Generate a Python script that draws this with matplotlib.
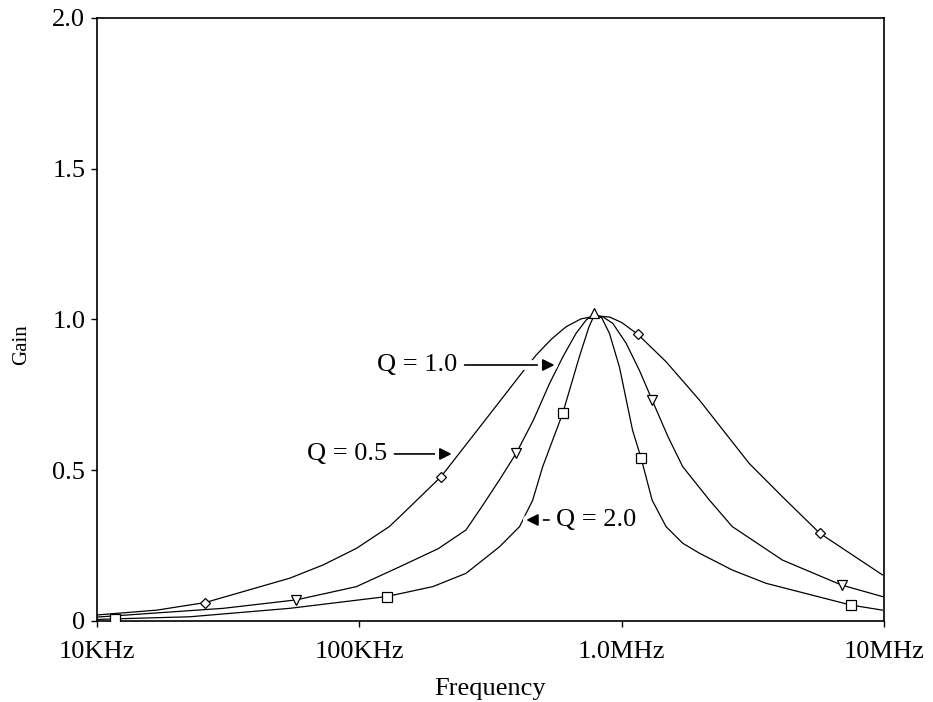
import matplotlib.pyplot as plt
import matplotlib.patheffects as pe

plt.rcParams['font.family'] = 'Liberation Serif'

# curves (frequency in Hz, gain)
freq_q05 = [10.0e3, 16.9e3, 25.8e3, 54.3e3, 72.8e3, 97.5e3, 130e3, 142.6e3, 205e3, 296e3, 420e3,
            472e3, 540e3, 614e3, 700e3, 800e3, 900e3, 1.0e6, 1.151e6, 1.476e6, 1.977e6, 3.06e6,
            4.10e6, 5.69e6, 9.86e6]
gain_q05 = [0.020, 0.036, 0.061, 0.142, 0.186, 0.241, 0.313, 0.346, 0.479, 0.657, 0.827,
            0.882, 0.935, 0.976, 1.002, 1.012, 1.008, 0.990, 0.951, 0.860, 0.733, 0.523,
            0.412, 0.291, 0.153]

freq_q10 = [10.0e3, 30.3e3, 57.5e3, 97.5e3, 142.6e3, 200e3, 255e3, 296e3, 342e3, 396e3, 460e3,
            531e3, 600e3, 670e3, 735e3, 787e3, 850e3, 925e3, 1.04e6, 1.17e6, 1.306e6, 1.5e6,
            1.708e6, 2.16e6, 2.64e6, 4.10e6, 6.90e6, 9.86e6]
gain_q10 = [0.013, 0.042, 0.070, 0.114, 0.180, 0.240, 0.302, 0.385, 0.468, 0.556, 0.665,
            0.788, 0.880, 0.954, 1.000, 1.015, 1.008, 0.987, 0.921, 0.830, 0.733, 0.612,
            0.512, 0.401, 0.313, 0.202, 0.119, 0.081]

freq_q20 = [10.0e3, 11.7e3, 22.6e3, 54.3e3, 127e3, 190.5e3, 255e3, 342e3, 408e3, 458e3, 500e3,
            596e3, 690e3, 750e3, 787e3, 840e3, 898e3, 980e3, 1.10e6, 1.186e6, 1.306e6, 1.476e6,
            1.708e6, 1.977e6, 2.64e6, 3.55e6, 7.46e6, 9.86e6]
gain_q20 = [0.005, 0.007, 0.014, 0.042, 0.081, 0.114, 0.158, 0.246, 0.313, 0.401, 0.512,
            0.689, 0.877, 0.975, 1.015, 1.005, 0.954, 0.843, 0.633, 0.540, 0.401, 0.313,
            0.258, 0.225, 0.169, 0.125, 0.053, 0.036]

# marker positions
diamond_f = [25.8e3, 205e3, 1.151e6, 5.69e6]
diamond_g = [0.061, 0.479, 0.951, 0.291]
tri_f = [57.5e3, 396e3, 1.306e6, 6.90e6]
tri_g = [0.070, 0.556, 0.733, 0.119]
peak_f = [787e3]
peak_g = [1.02]
square_f = [11.7e3, 127e3, 596e3, 1.186e6, 7.46e6]
square_g = [0.007, 0.081, 0.689, 0.540, 0.053]

xticks = [1e4, 1e5, 1e6, 1e7]
xlabels = ['10KHz', '100KHz', '1.0MHz', '10MHz']
yticks = [0, 0.5, 1.0, 1.5, 2.0]
ylabels = ['0', '0.5', '1.0', '1.5', '2.0']

fig = plt.figure(figsize=(9.33, 7.02), dpi=100)
ax = fig.add_axes([0.104, 0.1154, 0.8435, 0.859])

ax.plot(freq_q05, gain_q05, color='black', lw=0.9)
ax.plot(freq_q10, gain_q10, color='black', lw=0.9)
ax.plot(freq_q20, gain_q20, color='black', lw=0.9)

mk = dict(ls='none', mfc='white', mec='black', mew=0.9, zorder=3)
ax.plot(diamond_f, diamond_g, marker='D', ms=5, **mk)
ax.plot(tri_f, tri_g, marker='v', ms=7, **mk)
ax.plot(peak_f, peak_g, marker='^', ms=7, **mk)
ax.plot(square_f, square_g, marker='s', ms=7, **mk)

ax.set_xscale('log')
ax.set_xlim(1e4, 1e7)
ax.set_ylim(0, 2.0)
ax.set_xticks(xticks)
ax.set_xticklabels(xlabels)
ax.minorticks_off()
ax.set_yticks(yticks)
ax.set_yticklabels(ylabels)
ax.tick_params(labelsize=19, length=4.5, width=1, direction='out')
ax.tick_params(axis='x', pad=10)
ax.tick_params(axis='y', pad=4)
for s in ax.spines.values():
    s.set_linewidth(1.2)

ax.set_xlabel('Frequency', fontsize=19)
ax.xaxis.set_label_coords(0.5, -0.094)
ax.set_ylabel('Gain', fontsize=15)
ax.yaxis.set_label_coords(-0.084, 0.458)

arr = dict(arrowstyle='-|>', color='black', lw=1.2, mutation_scale=18, shrinkA=3, shrinkB=0)
gap = [pe.Stroke(linewidth=7, foreground='white'), pe.Normal()]
a1 = ax.annotate('Q = 1.0', xy=(555e3, 0.849), xytext=(237e3, 0.849), ha='right', va='center',
                 fontsize=19, arrowprops=arr)
a2 = ax.annotate('Q = 0.5', xy=(225e3, 0.554), xytext=(128e3, 0.554), ha='right', va='center',
                 fontsize=19, arrowprops=arr)
a3 = ax.annotate('Q = 2.0', xy=(432e3, 0.335), xytext=(562e3, 0.335), ha='left', va='center',
                 fontsize=19, arrowprops=arr)
for a in (a1, a2, a3):
    a.arrow_patch.set_path_effects(gap)

plt.savefig('out.png')
